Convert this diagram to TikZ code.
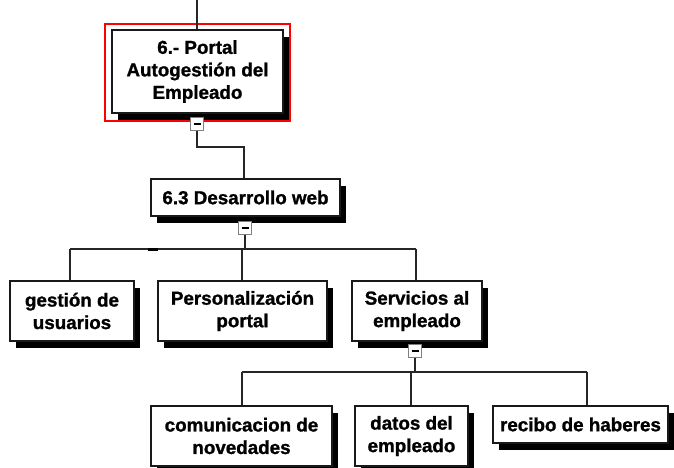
\documentclass[tikz,border=0pt]{standalone}
\usepackage{fontspec}
\setmainfont{Liberation Sans}[BoldFeatures={FakeBold=1.2}]
\usetikzlibrary{shadows}
\tikzset{
  box/.style={draw=black!90, line width=1.4pt, fill=white, align=center,
    font=\fontsize{18.8}{22.5}\selectfont\bfseries, inner sep=0pt,
    drop shadow={shadow xshift=6pt, shadow yshift=-7pt, fill=black, opacity=1}},
  conn/.style={line width=1.4pt, draw=black!85},
  mini/.style={draw=gray, fill=white, line width=1.2pt, minimum size=13pt, inner sep=0pt,
    path picture={\draw[line width=1.8pt, black]
      ([xshift=-3.5pt]path picture bounding box.center) -- ([xshift=3.5pt]path picture bounding box.center);}}
}
\begin{document}
\begin{tikzpicture}[x=1pt,y=-1pt]
\useasboundingbox[fill=white] (0,0) rectangle (674,467);

% red selection frame
\draw[red, line width=1.2pt] (105,24) rectangle (290,121);

% boxes
\node[box, minimum width=171pt, minimum height=83pt] (top) at (197.5,71.5) {6.- Portal\\Autogestión del\\Empleado};
\node[box, minimum width=189pt, minimum height=37pt] (d63) at (245.5,197.5) {6.3 Desarrollo web};
\node[box, minimum width=124pt, minimum height=60pt] (gest) at (72,311) {gestión de\\usuarios};
\node[box, minimum width=169pt, minimum height=60pt] (pers) at (242.5,311) {Personalización\\portal};
\node[box, minimum width=130pt, minimum height=60pt] (serv) at (417,311) {Servicios al\\empleado};
\node[box, minimum width=181pt, minimum height=60pt] (com) at (241.5,436) {comunicacion de\\novedades};
\node[box, minimum width=113pt, minimum height=60pt] (datos) at (411.5,436) {datos del\\empleado};
\node[box, minimum width=175pt, minimum height=37pt] (rec) at (580.5,424.5) {recibo de haberes};

% collapse markers
\node[mini] (m1) at (197,124) {};
\node[mini] (m2) at (245,228) {};
\node[mini] (m3) at (415,351) {};

% bus coordinates
\coordinate (in0) at (197,0);
\coordinate (b1) at (244,147);
\coordinate (b2) at (245,249);
\coordinate (b3) at (415,372);

% connectors
\draw[conn] (in0) -- (top.north -| in0);
\draw[conn] (m1.south) |- (b1) -- (b1 |- d63.north);
\draw[conn] (m2.south) -- (b2);
\draw[conn] (b2 -| 70,0) -- (b2 -| 416,0);
\draw[conn] (70,249) -- (gest.north -| 70,0);
\draw[conn] (242,249) -- (pers.north -| 242,0);
\draw[conn] (416,249) -- (serv.north -| 416,0);
\draw[line width=3pt, black] (148,249) -- (158,249);
\draw[conn] (m3.south) -- (b3);
\draw[conn] (b3 -| 242,0) -- (b3 -| 587,0);
\draw[conn] (242,372) -- (com.north -| 242,0);
\draw[conn] (411,372) -- (datos.north -| 411,0);
\draw[conn] (587,372) -- (rec.north -| 587,0);
\end{tikzpicture}
\end{document}
